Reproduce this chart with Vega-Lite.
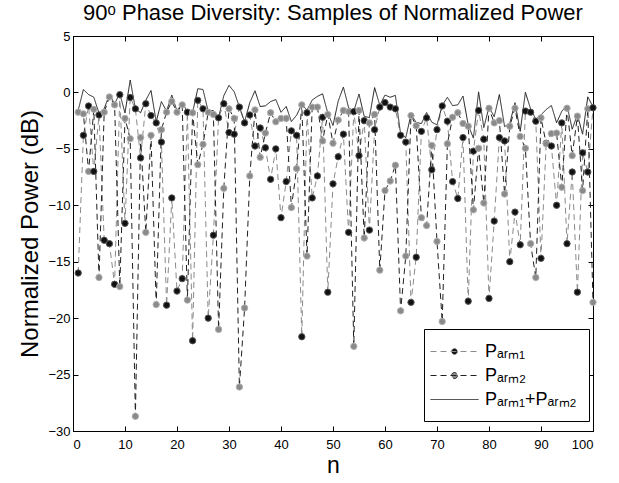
{
  "$schema": "https://vega.github.io/schema/vega-lite/v6.json",
  "width": 520,
  "height": 395,
  "autosize": "none",
  "padding": {"left": 73, "top": 36, "right": 26, "bottom": 52},
  "background": "white",
  "config": {
    "font": "Liberation Sans",
    "view": {"stroke": "black", "strokeWidth": 1},
    "axis": {"domainColor": "black", "tickColor": "black", "labelColor": "black", "titleColor": "black", "grid": false, "labelFontSize": 13, "titleFontSize": 23, "titleFontWeight": "normal", "tickSize": -5, "labelPadding": 8}
  },
  "title": {"text": "90ᵒ Phase Diversity: Samples of Normalized Power", "fontSize": 22, "fontWeight": "normal", "color": "black", "offset": 5},
  "data": {"values": [
    {"n":1,"arm1":-16.0,"arm2":-1.75,"sum":-1.58},
    {"n":2,"arm1":-3.8,"arm2":-1.9,"sum":0.26},
    {"n":3,"arm1":-1.2,"arm2":-7.0,"sum":-0.19},
    {"n":4,"arm1":-7.0,"arm2":-1.5,"sum":-0.42},
    {"n":5,"arm1":-2.0,"arm2":-16.4,"sum":-1.84},
    {"n":6,"arm1":-13.1,"arm2":-1.75,"sum":-1.44},
    {"n":7,"arm1":-13.4,"arm2":-0.4,"sum":-0.19},
    {"n":8,"arm1":-17.0,"arm2":-1.1,"sum":-0.99},
    {"n":9,"arm1":-0.2,"arm2":-17.2,"sum":-0.11},
    {"n":10,"arm1":-11.6,"arm2":-2.3,"sum":-1.82},
    {"n":11,"arm1":-0.45,"arm2":-4.1,"sum":1.10},
    {"n":12,"arm1":-1.45,"arm2":-28.7,"sum":-1.44},
    {"n":13,"arm1":-5.8,"arm2":-4.0,"sum":-1.8},
    {"n":14,"arm1":-1.0,"arm2":-12.4,"sum":-0.69},
    {"n":15,"arm1":-2.05,"arm2":-3.8,"sum":0.17},
    {"n":16,"arm1":-2.7,"arm2":-18.8,"sum":-2.59},
    {"n":17,"arm1":-4.4,"arm2":-3.3,"sum":-0.81},
    {"n":18,"arm1":-18.85,"arm2":-1.75,"sum":-1.66},
    {"n":19,"arm1":-9.35,"arm2":-0.8,"sum":-0.23},
    {"n":20,"arm1":-17.6,"arm2":-1.75,"sum":-1.64},
    {"n":21,"arm1":-16.5,"arm2":-1.1,"sum":-0.97},
    {"n":22,"arm1":-1.75,"arm2":-18.4,"sum":-1.66},
    {"n":23,"arm1":-22.0,"arm2":-1.8,"sum":-1.76},
    {"n":24,"arm1":-0.7,"arm2":-6.4,"sum":0.33},
    {"n":25,"arm1":-1.45,"arm2":-4.6,"sum":0.26},
    {"n":26,"arm1":-20.0,"arm2":-1.75,"sum":-1.68},
    {"n":27,"arm1":-12.65,"arm2":-1.95,"sum":-1.6},
    {"n":28,"arm1":-2.25,"arm2":-21.0,"sum":-2.19},
    {"n":29,"arm1":-1.0,"arm2":-8.5,"sum":-0.29},
    {"n":30,"arm1":-3.55,"arm2":-1.45,"sum":0.63},
    {"n":31,"arm1":-3.7,"arm2":-2.3,"sum":0.06},
    {"n":32,"arm1":-1.3,"arm2":-26.1,"sum":-1.29},
    {"n":33,"arm1":-2.7,"arm2":-19.1,"sum":-2.6},
    {"n":34,"arm1":-2.0,"arm2":-7.4,"sum":-0.9},
    {"n":35,"arm1":-4.75,"arm2":-1.55,"sum":0.15},
    {"n":36,"arm1":-3.15,"arm2":-5.75,"sum":-1.25},
    {"n":37,"arm1":-4.9,"arm2":-3.6,"sum":-1.19},
    {"n":38,"arm1":-7.7,"arm2":-1.8,"sum":-0.81},
    {"n":39,"arm1":-5.0,"arm2":-2.6,"sum":-0.63},
    {"n":40,"arm1":-11.1,"arm2":-2.3,"sum":-1.76},
    {"n":41,"arm1":-7.9,"arm2":-2.3,"sum":-1.24},
    {"n":42,"arm1":-3.4,"arm2":-10.2,"sum":-2.58},
    {"n":43,"arm1":-3.8,"arm2":-6.75,"sum":-2.02},
    {"n":44,"arm1":-21.65,"arm2":-1.1,"sum":-1.06},
    {"n":45,"arm1":-1.8,"arm2":-14.5,"sum":-1.57},
    {"n":46,"arm1":-9.35,"arm2":-1.3,"sum":-0.67},
    {"n":47,"arm1":-7.4,"arm2":-1.3,"sum":-0.35},
    {"n":48,"arm1":-2.2,"arm2":-4.3,"sum":-0.12},
    {"n":49,"arm1":-17.7,"arm2":-1.95,"sum":-1.83},
    {"n":50,"arm1":-8.1,"arm2":-4.5,"sum":-2.93},
    {"n":51,"arm1":-5.7,"arm2":-2.45,"sum":-0.77},
    {"n":52,"arm1":-3.7,"arm2":-1.6,"sum":0.48},
    {"n":53,"arm1":-12.4,"arm2":-1.7,"sum":-1.35},
    {"n":54,"arm1":-1.7,"arm2":-22.5,"sum":-1.66},
    {"n":55,"arm1":-5.6,"arm2":-1.6,"sum":-0.14},
    {"n":56,"arm1":-2.5,"arm2":-12.9,"sum":-2.12},
    {"n":57,"arm1":-12.2,"arm2":-2.7,"sum":-2.23},
    {"n":58,"arm1":-3.3,"arm2":-1.95,"sum":0.43},
    {"n":59,"arm1":-1.3,"arm2":-15.75,"sum":-1.14},
    {"n":60,"arm1":-0.9,"arm2":-8.7,"sum":-0.23},
    {"n":61,"arm1":-1.3,"arm2":-7.85,"sum":-0.43},
    {"n":62,"arm1":-1.45,"arm2":-6.45,"sum":-0.26},
    {"n":63,"arm1":-3.8,"arm2":-19.35,"sum":-3.68},
    {"n":64,"arm1":-4.4,"arm2":-14.5,"sum":-4.0},
    {"n":65,"arm1":-18.6,"arm2":-2.05,"sum":-1.95},
    {"n":66,"arm1":-14.6,"arm2":-2.95,"sum":-2.66},
    {"n":67,"arm1":-3.45,"arm2":-11.1,"sum":-2.76},
    {"n":68,"arm1":-2.25,"arm2":-11.8,"sum":-1.78},
    {"n":69,"arm1":-6.85,"arm2":-4.7,"sum":-2.64},
    {"n":70,"arm1":-3.3,"arm2":-13.2,"sum":-2.88},
    {"n":71,"arm1":-1.2,"arm2":-20.3,"sum":-1.15},
    {"n":72,"arm1":-2.55,"arm2":-4.55,"sum":-0.43},
    {"n":73,"arm1":-7.9,"arm2":-2.2,"sum":-1.17},
    {"n":74,"arm1":-9.4,"arm2":-1.8,"sum":-1.1},
    {"n":75,"arm1":-4.0,"arm2":-2.75,"sum":-0.32},
    {"n":76,"arm1":-18.5,"arm2":-3.0,"sum":-2.88},
    {"n":77,"arm1":-5.2,"arm2":-10.4,"sum":-4.05},
    {"n":78,"arm1":-1.6,"arm2":-4.95,"sum":0.05},
    {"n":79,"arm1":-4.15,"arm2":-9.8,"sum":-3.11},
    {"n":80,"arm1":-18.25,"arm2":-1.4,"sum":-1.31},
    {"n":81,"arm1":-11.4,"arm2":-2.7,"sum":-2.15},
    {"n":82,"arm1":-4.0,"arm2":-2.5,"sum":-0.18},
    {"n":83,"arm1":-4.3,"arm2":-9.0,"sum":-3.03},
    {"n":84,"arm1":-15.0,"arm2":-3.0,"sum":-2.73},
    {"n":85,"arm1":-10.6,"arm2":-1.4,"sum":-0.91},
    {"n":86,"arm1":-13.5,"arm2":-3.9,"sum":-3.45},
    {"n":87,"arm1":-1.65,"arm2":-4.95,"sum":0.01},
    {"n":88,"arm1":-1.75,"arm2":-13.4,"sum":-1.46},
    {"n":89,"arm1":-2.55,"arm2":-16.4,"sum":-2.37},
    {"n":90,"arm1":-14.7,"arm2":-2.25,"sum":-2.0},
    {"n":91,"arm1":-4.5,"arm2":-4.55,"sum":-1.51},
    {"n":92,"arm1":-4.75,"arm2":-3.65,"sum":-1.16},
    {"n":93,"arm1":-10.0,"arm2":-3.6,"sum":-2.69},
    {"n":94,"arm1":-2.7,"arm2":-8.4,"sum":-1.67},
    {"n":95,"arm1":-13.4,"arm2":-1.4,"sum":-1.13},
    {"n":96,"arm1":-7.05,"arm2":-5.6,"sum":-3.26},
    {"n":97,"arm1":-17.7,"arm2":-2.1,"sum":-1.98},
    {"n":98,"arm1":-5.35,"arm2":-8.7,"sum":-3.7},
    {"n":99,"arm1":-7.05,"arm2":-1.45,"sum":-0.39},
    {"n":100,"arm1":-1.36,"arm2":-18.6,"sum":-1.28}
  ]},
  "transform": [{"fold": ["arm1", "arm2", "sum"], "as": ["series", "v"]}],
  "layer": [
    {
      "mark": {"type": "line", "strokeWidth": 1},
      "encoding": {
        "x": {"field": "n", "type": "quantitative", "scale": {"domain": [0, 100], "nice": false}, "axis": {"title": "n", "values": [0,10,20,30,40,50,60,70,80,90,100], "labelPadding": 12, "titlePadding": 3}},
        "y": {"field": "v", "type": "quantitative", "scale": {"domain": [-30, 5], "nice": false}, "axis": {"title": "Normalized Power (dB)", "titleFontSize": 24, "values": [-30,-25,-20,-15,-10,-5,0,5], "titlePadding": 5}},
        "color": {
          "field": "series", "type": "nominal",
          "scale": {"domain": ["arm1", "arm2", "sum"], "range": ["#8a8a8a", "#202020", "#202020"]},
          "legend": {
            "orient": "none", "legendX": 351, "legendY": 293, "title": null,
            "fillColor": "white", "strokeColor": "black", "padding": 12,
            "labelFontSize": 18, "labelColor": "black", "labelOffset": 28,
            "rowPadding": 4, "symbolSize": 400, "symbolStrokeWidth": 1,
            "labelExpr": "datum.value === 'arm1' ? 'Pₐᵣₘ₁' : datum.value === 'arm2' ? 'Pₐᵣₘ₂' : 'Pₐᵣₘ₁+Pₐᵣₘ₂'",
            "encode": {"symbols": {"update": {
              "shape": {"signal": "datum.value === 'sum' ? 'M-1.6,0H3.2' : 'M-1.6,0H3.2M1.1,0A0.3,0.3 0 1 1 0.5,0A0.3,0.3 0 1 1 1.1,0Z'"},
              "fill": {"signal": "datum.value === 'arm1' ? '#111111' : datum.value === 'arm2' ? '#8a8a8a' : 'transparent'"},
              "strokeDash": {"signal": "datum.value === 'sum' ? [1,0] : [5,3]"}
            }}}
          }
        },
        "strokeDash": {"field": "series", "type": "nominal", "scale": {"domain": ["arm1", "arm2", "sum"], "range": [[6,4],[6,4],[1,0]]}, "legend": null}
      }
    },
    {
      "transform": [{"filter": "datum.series !== 'sum'"}],
      "mark": {"type": "point", "filled": true, "size": 40, "strokeWidth": 1, "opacity": 1},
      "encoding": {
        "x": {"field": "n", "type": "quantitative", "axis": null},
        "y": {"field": "v", "type": "quantitative", "axis": null},
        "fill": {"condition": {"test": "datum.series === 'arm1'", "value": "#111111"}, "value": "#8a8a8a"},
        "stroke": {"condition": {"test": "datum.series === 'arm1'", "value": "#555555"}, "value": "#b0b0b0"}
      }
    },
    {
      "mark": {"type": "point", "opacity": 0},
      "encoding": {
        "x": {"field": "n", "type": "quantitative", "axis": {"orient": "top", "labels": false, "title": null, "values": [0,10,20,30,40,50,60,70,80,90,100]}},
        "y": {"field": "v", "type": "quantitative", "axis": {"orient": "right", "labels": false, "title": null, "values": [-30,-25,-20,-15,-10,-5,0,5]}}
      }
    }
  ],
  "resolve": {"axis": {"x": "independent", "y": "independent"}}
}
